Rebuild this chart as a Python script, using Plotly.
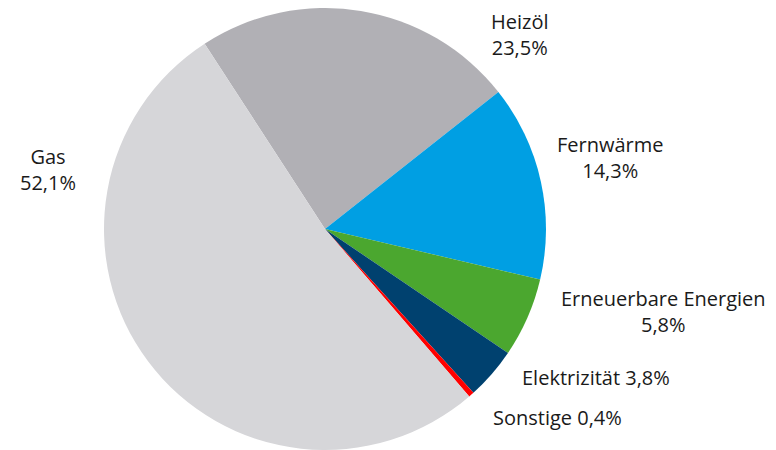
import plotly.graph_objects as go

labels = ["Heizöl", "Fernwärme", "Erneuerbare Energien", "Elektrizität", "Sonstige", "Gas"]
values = [23.5, 14.3, 5.8, 3.8, 0.4, 52.1]
colors = ["#b1b0b5", "#009fe3", "#4ba72f", "#00416f", "#ff0000", "#d6d6d9"]
label_texts = ["Heizöl<br>23,5%", "Fernwärme<br>14,3%", "Erneuerbare Energien<br>5,8%",
               "Elektrizität 3,8%", "Sonstige 0,4%", "Gas<br>52,1%"]
# label block centres in page pixels (page is offset by the 8px body margin)
label_pos = [(519, 34), (610, 157.75), (663, 311.75), (595.5, 377.5), (557.5, 417.5), (47.5, 169.75)]

W, H = 776, 450
OFF = 8

fig = go.Figure(go.Pie(
    labels=labels,
    values=values,
    sort=False,
    direction="clockwise",
    rotation=-33,
    marker=dict(colors=colors, line=dict(width=0)),
    textinfo="none",
    hoverinfo="label+percent",
    domain=dict(x=[96 / W, 538 / W], y=[0.0178, 1.0]),
))

for t, (x, y) in zip(label_texts, label_pos):
    fig.add_annotation(x=(x - OFF) / W, y=min(1.0, 1 - (y - OFF) / H), xref="paper", yref="paper",
                       text=t, showarrow=False, xanchor="center", yanchor="middle",
                       align="center", borderpad=0,
                       font=dict(size=20, color="#1a1a1a", family="Open Sans"))

fig.update_layout(
    width=W, height=H,
    margin=dict(l=0, r=0, t=0, b=0),
    showlegend=False,
    paper_bgcolor="white",
    plot_bgcolor="white",
)

fig.write_html("out.html")
